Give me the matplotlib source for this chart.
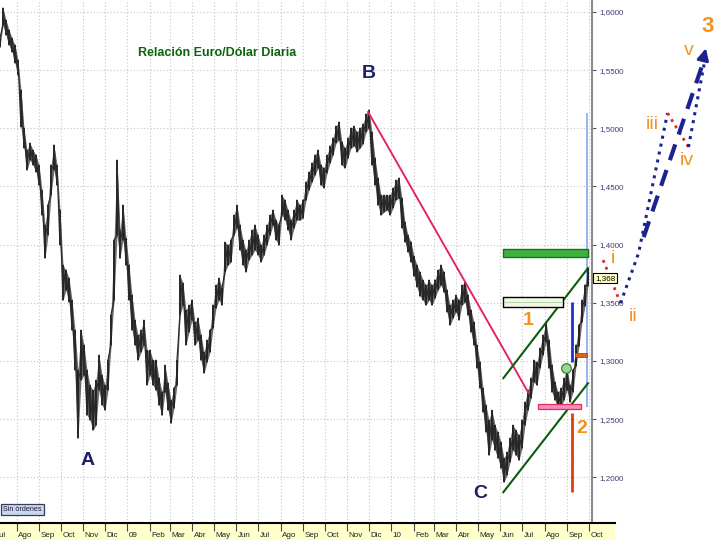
import matplotlib
matplotlib.use("Agg")
import matplotlib.pyplot as plt
import numpy as np
import pandas as pd

plt.rcParams['font.family'] = ['Liberation Sans', 'DejaVu Sans']

# ---------------- DATOS ----------------
# maximos y minimos Euro/Dolar, una barra cada ~4 dias
maximos = [
    1.5776, 1.6034, 1.5931, 1.5845, 1.5776, 1.5716, 1.5587, 1.5329, 1.5002, 1.4813,
    1.4873, 1.4813, 1.4770, 1.4684, 1.4469, 1.4168, 1.4340, 1.4684, 1.4856, 1.4684,
    1.4297, 1.3824, 1.3781, 1.3712, 1.3523, 1.3265, 1.2921, 1.3265, 1.3136, 1.2921,
    1.2792, 1.2749, 1.2835, 1.3050, 1.2878, 1.2792, 1.3007, 1.3394, 1.4039, 1.4727,
    1.4125, 1.4340, 1.4056, 1.3824, 1.3566, 1.3351, 1.3222, 1.3265, 1.3351, 1.3093,
    1.3093, 1.3007, 1.3007, 1.2852, 1.2732, 1.2964, 1.2809, 1.2663, 1.2766, 1.3007,
    1.3738, 1.3669, 1.3437, 1.3480, 1.3523, 1.3334, 1.3368, 1.3222, 1.3076, 1.3179,
    1.3265, 1.3480, 1.3652, 1.3712, 1.3626, 1.4022, 1.3996, 1.4039, 1.4254, 1.4340,
    1.4168, 1.4039, 1.3953, 1.4039, 1.4125, 1.4168, 1.4082, 1.3996, 1.4082, 1.4168,
    1.4254, 1.4297, 1.4211, 1.4168, 1.4426, 1.4383, 1.4297, 1.4211, 1.4297, 1.4383,
    1.4340, 1.4383, 1.4538, 1.4624, 1.4701, 1.4770, 1.4813, 1.4684, 1.4658, 1.4770,
    1.4847, 1.4916, 1.5019, 1.5054, 1.4882, 1.4830, 1.4916, 1.5002, 1.5019, 1.4968,
    1.5002, 1.5037, 1.5123, 1.5157, 1.4968, 1.4744, 1.4572, 1.4426, 1.4426, 1.4426,
    1.4426, 1.4486, 1.4555, 1.4572, 1.4400, 1.4194, 1.4082, 1.4022, 1.3901, 1.3824,
    1.3764, 1.3695, 1.3652, 1.3695, 1.3652, 1.3695, 1.3781, 1.3824, 1.3764, 1.3609,
    1.3480, 1.3523, 1.3566, 1.3523, 1.3652, 1.3678, 1.3566, 1.3437, 1.3334, 1.3136,
    1.2990, 1.2766, 1.2620, 1.2491, 1.2577, 1.2448, 1.2388, 1.2302, 1.2164, 1.2216,
    1.2336, 1.2448, 1.2405, 1.2362, 1.2491, 1.2646, 1.2749, 1.2852, 1.3007, 1.2990,
    1.3110, 1.3222, 1.3334, 1.3179, 1.2964, 1.2818, 1.2732, 1.2766, 1.2852, 1.2938,
    1.2792, 1.2921, 1.3136, 1.3308, 1.3523, 1.3652, 1.3799,
]
minimos = [
    1.5699, 1.5888, 1.5802, 1.5716, 1.5656, 1.5561, 1.5458, 1.5011, 1.4830, 1.4641,
    1.4727, 1.4684, 1.4624, 1.4512, 1.4254, 1.3884, 1.4082, 1.4426, 1.4641, 1.4512,
    1.3996, 1.3523, 1.3609, 1.3506, 1.3265, 1.2921, 1.2336, 1.2835, 1.2878, 1.2534,
    1.2491, 1.2405, 1.2448, 1.2749, 1.2620, 1.2577, 1.2749, 1.3136, 1.3523, 1.4082,
    1.3884, 1.4039, 1.3824, 1.3523, 1.3265, 1.3136, 1.3007, 1.3076, 1.3136, 1.2792,
    1.2878, 1.2792, 1.2749, 1.2620, 1.2534, 1.2732, 1.2577, 1.2465, 1.2594, 1.2792,
    1.3394, 1.3480, 1.3136, 1.3248, 1.3351, 1.3136, 1.3179, 1.3007, 1.2895, 1.2990,
    1.3076, 1.3282, 1.3454, 1.3523, 1.3480, 1.3764, 1.3824, 1.3850, 1.4082, 1.4142,
    1.3953, 1.3824, 1.3764, 1.3867, 1.3910, 1.3953, 1.3910, 1.3850, 1.3910, 1.3996,
    1.4082, 1.4168, 1.4039, 1.3996, 1.4254, 1.4211, 1.4125, 1.4039, 1.4142, 1.4211,
    1.4211, 1.4228, 1.4383, 1.4469, 1.4538, 1.4598, 1.4658, 1.4512, 1.4486, 1.4615,
    1.4701, 1.4770, 1.4873, 1.4899, 1.4684, 1.4658, 1.4744, 1.4830, 1.4847, 1.4796,
    1.4830, 1.4865, 1.4968, 1.5002, 1.4684, 1.4512, 1.4340, 1.4254, 1.4280, 1.4297,
    1.4254, 1.4314, 1.4383, 1.4400, 1.4142, 1.4022, 1.3936, 1.3850, 1.3729, 1.3635,
    1.3557, 1.3523, 1.3480, 1.3523, 1.3480, 1.3540, 1.3609, 1.3652, 1.3592, 1.3420,
    1.3308, 1.3368, 1.3420, 1.3351, 1.3480, 1.3506, 1.3394, 1.3248, 1.3136, 1.2938,
    1.2766, 1.2560, 1.2388, 1.2190, 1.2319, 1.2233, 1.2164, 1.2078, 1.1958, 1.2018,
    1.2130, 1.2233, 1.2190, 1.2147, 1.2250, 1.2448, 1.2577, 1.2680, 1.2818, 1.2792,
    1.2938, 1.3050, 1.3162, 1.2938, 1.2732, 1.2663, 1.2594, 1.2611, 1.2663, 1.2749,
    1.2646, 1.2732, 1.2955, 1.3127, 1.3334, 1.3472, 1.3644,
]
fechas = pd.date_range("2008-07-09", "2010-09-30", periods=len(maximos))

niveles = [1.20, 1.25, 1.30, 1.35, 1.40, 1.45, 1.50, 1.55, 1.60]
etiquetas_precio = ["1,2000", "1,2500", "1,3000", "1,3500", "1,4000",
                    "1,4500", "1,5000", "1,5500", "1,6000"]
inicio_meses = pd.date_range("2008-07-01", "2010-10-01", freq="MS")
meses = ["Jul", "Ago", "Sep", "Oct", "Nov", "Dic", "09", "Feb", "Mar", "Abr",
         "May", "Jun", "Jul", "Ago", "Sep", "Oct", "Nov", "Dic", "10", "Feb",
         "Mar", "Abr", "May", "Jun", "Jul", "Ago", "Sep", "Oct"]

# ---------------- ESTILO ----------------
T0 = pd.Timestamp("2008-07-09")
T1 = pd.Timestamp("2010-10-05 14:00")
NARANJA = "#f3921f"
AZUL = "#1c2390"
ROJO = "#e4261c"
ETIQ = "#1f1f66"

fig = plt.figure(figsize=(7.2, 5.4), dpi=100)
fig.patch.set_facecolor("white")

ax = fig.add_axes([0, 17 / 540, 592 / 720, 523 / 540])
ax.set_xlim(T0, T1)
ax.set_ylim(1.1607, 1.6103)
ax.set_facecolor("white")

# rejilla punteada
for m in inicio_meses:
    ax.axvline(m, color="#c4c4c4", lw=0.8, ls=(0, (1, 2)), zorder=0)
for n in niveles:
    ax.axhline(n, color="#c4c4c4", lw=0.8, ls=(0, (1, 2)), zorder=0)

# linea azul clara junto al eje
ax.vlines(pd.Timestamp("2010-09-29"), 1.2602, 1.5131, color="#86a6f2", lw=1.2, zorder=1)

# barras de precio
ax.fill_between(fechas, minimos, maximos, color="#6a6a6a", lw=0, zorder=2)
ax.vlines(fechas, minimos, maximos, color="#161616", lw=1.3, zorder=3)
xs = np.repeat(fechas.values, 2)
ys = np.column_stack([minimos, maximos]).ravel()
ax.plot(xs, ys, color="#2a2a2a", lw=0.9, zorder=3)

# lineas de tendencia y canal
ax.plot([pd.Timestamp("2009-11-30"), pd.Timestamp("2010-07-10")], [1.5140, 1.2723],
        color="#e2246e", lw=1.4, zorder=4)
ax.plot([pd.Timestamp("2010-06-05"), pd.Timestamp("2010-09-30")], [1.2852, 1.3798],
        color="#0d5c0d", lw=1.5, zorder=4)
ax.plot([pd.Timestamp("2010-06-05"), pd.Timestamp("2010-09-30")], [1.1872, 1.2808],
        color="#0d5c0d", lw=1.5, zorder=4)

# zonas
ax.fill_between([pd.Timestamp("2010-06-05"), pd.Timestamp("2010-09-30")], 1.3892, 1.3961,
                facecolor="#3db33d", edgecolor="#1d6e1d", lw=1, zorder=4)
ax.fill_between([pd.Timestamp("2010-06-05"), pd.Timestamp("2010-08-27")], 1.3462, 1.3548,
                facecolor="#f3f8e6", edgecolor="black", lw=1, zorder=4)
ax.plot([pd.Timestamp("2010-06-07"), pd.Timestamp("2010-08-25")], [1.3505, 1.3505],
        color="#b6d8b0", lw=0.8, zorder=4)
ax.fill_between([pd.Timestamp("2010-07-23"), pd.Timestamp("2010-09-21")], 1.2588, 1.2631,
                facecolor="#f58cc8", edgecolor="#e0304e", lw=0.9, zorder=4)
ax.fill_between([pd.Timestamp("2010-09-12"), pd.Timestamp("2010-09-29")], 1.3036, 1.3070,
                facecolor="#e0601a", edgecolor="#b84010", lw=0.6, zorder=4)
ax.vlines(pd.Timestamp("2010-09-08"), 1.2989, 1.3505, color="#1f2fd0", lw=2, zorder=4)
ax.vlines(pd.Timestamp("2010-09-08"), 1.1875, 1.2554, color="#e23a12", lw=2, zorder=4)
ax.scatter([pd.Timestamp("2010-08-31")], [1.2938], s=48, facecolor="#92da8e",
           edgecolor="#2e6e2e", lw=0.8, zorder=5)

# proyeccion de ondas
ax.plot([pd.Timestamp("2010-10-21"), pd.Timestamp("2010-11-14")], [1.3867, 1.3497],
        color=ROJO, lw=2, ls=":", clip_on=False, zorder=6)
ax.plot([pd.Timestamp("2010-11-14"), pd.Timestamp("2010-12-09"), pd.Timestamp("2011-01-18")],
        [1.3497, 1.3927, 1.5131], color=AZUL, lw=2.2, ls=":", clip_on=False, zorder=6)
ax.plot([pd.Timestamp("2011-01-18"), pd.Timestamp("2011-02-16")], [1.5131, 1.4839],
        color=ROJO, lw=2, ls=":", clip_on=False, zorder=6)
ax.plot([pd.Timestamp("2011-02-16"), pd.Timestamp("2011-03-12")], [1.4839, 1.5630],
        color=AZUL, lw=2.2, ls=":", clip_on=False, zorder=6)
ax.plot([pd.Timestamp("2010-12-16"), pd.Timestamp("2011-03-08")], [1.4065, 1.5560],
        color=AZUL, lw=3, ls=(0, (4, 2.5)), clip_on=False, zorder=6)
ax.annotate("", xy=(pd.Timestamp("2011-03-13"), 1.5712),
            xytext=(pd.Timestamp("2011-03-07"), 1.5560),
            arrowprops=dict(arrowstyle="-|>,head_length=0.7,head_width=0.35",
                            color=AZUL, lw=2),
            annotation_clip=False, zorder=6)

# textos
ax.text(pd.Timestamp("2009-05-05"), 1.5650, "Relación Euro/Dólar Diaria",
        color="#0a640a", fontsize=9, fontweight="bold", ha="center", va="center")
for letra, f, p in [("A", "2008-11-07", 1.2147), ("B", "2009-12-01", 1.5475),
                    ("C", "2010-05-04", 1.1863)]:
    ax.text(pd.Timestamp(f), p, letra, color=ETIQ, fontsize=14, fontweight="bold",
            ha="center", va="center")
for letra, f, p, fs, fw in [("1", "2010-07-10", 1.3350, 14, "bold"),
                            ("2", "2010-09-22", 1.2421, 14, "bold"),
                            ("i", "2010-11-04", 1.3884, 14, "normal"),
                            ("ii", "2010-12-02", 1.3385, 14, "normal"),
                            ("iii", "2010-12-28", 1.5037, 14, "normal"),
                            ("iv", "2011-02-14", 1.4719, 14, "normal"),
                            ("v", "2011-02-16", 1.5673, 14, "normal"),
                            ("3", "2011-03-14", 1.5871, 16, "bold")]:
    ax.text(pd.Timestamp(f), p, letra, color=NARANJA, fontsize=fs, fontweight=fw,
            ha="center", va="center", clip_on=False, zorder=7)

ax.text(pd.Timestamp("2010-10-10"), 1.3712, "1,368", fontsize=5.8, color="black",
        ha="left", va="center", zorder=7,
        bbox=dict(facecolor="#ffffc4", edgecolor="black", lw=0.8, pad=1.3))

# eje de precios a la derecha
for s in ["left", "top", "bottom"]:
    ax.spines[s].set_visible(False)
ax.spines["right"].set_color("#8c8c8c")
ax.spines["right"].set_linewidth(1.5)
ax.set_xticks([])
ax.yaxis.tick_right()
ax.set_yticks(niveles)
ax.set_yticklabels(etiquetas_precio)
ax.tick_params(axis="y", labelsize=5.8, labelcolor="#3c3c70", color="#555555",
               length=3, pad=2)

# banda de fechas
axb = fig.add_axes([0, 0, 615 / 720, 17 / 540])
axb.set_xlim(T0, T0 + (T1 - T0) * 615 / 592)
axb.set_ylim(0, 1)
axb.set_facecolor("#ffffcc")
for s in ["left", "right", "bottom"]:
    axb.spines[s].set_visible(False)
axb.spines["top"].set_color("black")
axb.spines["top"].set_linewidth(1.5)
axb.set_xticks([])
axb.set_yticks([])
axb.vlines(inicio_meses, 0.55, 1, color="#444444", lw=0.8)
for m, txt in zip(inicio_meses, meses):
    axb.text(m + pd.Timedelta(days=2), 0.08, txt, fontsize=5.8, color="#222222",
             ha="left", va="bottom")

fig.text(0.004, 0.0560, "Sin órdenes", fontsize=5.2, color="#1a1a3a", ha="left",
         va="center", bbox=dict(facecolor="#c8d8ee", edgecolor="#3a3a5a", lw=0.9, pad=1.6))

plt.savefig("out.png", dpi=100)
plt.close()
